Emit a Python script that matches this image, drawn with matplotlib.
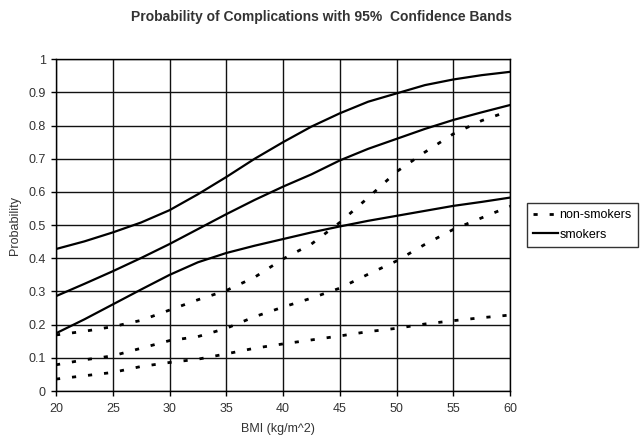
import numpy as np
import matplotlib.pyplot as plt

plt.rcParams['font.family'] = ['Liberation Sans', 'DejaVu Sans']

BMI = [20, 22.5, 25, 27.5, 30, 32.5, 35, 37.5, 40, 42.5, 45, 47.5, 50, 52.5, 55, 57.5, 60]

# smokers: estimate with lower / upper 95% band
SMOKERS_UPPER = [0.428, 0.451, 0.478, 0.508, 0.545, 0.593, 0.645, 0.70, 0.750,
                 0.797, 0.837, 0.872, 0.897, 0.922, 0.939, 0.952, 0.962]
SMOKERS = [0.286, 0.323, 0.361, 0.401, 0.443, 0.488, 0.533, 0.576, 0.616,
           0.653, 0.695, 0.730, 0.760, 0.790, 0.817, 0.840, 0.862]
SMOKERS_LOWER = [0.174, 0.216, 0.261, 0.306, 0.350, 0.388, 0.416, 0.438, 0.458,
                 0.478, 0.496, 0.513, 0.528, 0.543, 0.558, 0.570, 0.583]

# non-smokers
NON_SMOKERS_UPPER = [0.169, 0.180, 0.194, 0.213, 0.244, 0.275, 0.303, 0.343, 0.398,
                     0.443, 0.508, 0.583, 0.661, 0.720, 0.775, 0.815, 0.845]
NON_SMOKERS = [0.079, 0.094, 0.106, 0.129, 0.152, 0.164, 0.189, 0.224, 0.253,
               0.280, 0.310, 0.352, 0.392, 0.442, 0.487, 0.522, 0.557]
NON_SMOKERS_LOWER = [0.036, 0.046, 0.056, 0.074, 0.086, 0.096, 0.112, 0.129, 0.142,
                     0.154, 0.166, 0.179, 0.189, 0.202, 0.212, 0.221, 0.229]

X_TICKS = np.arange(20, 61, 5)
Y_TICKS = [0, 0.1, 0.2, 0.3, 0.4, 0.5, 0.6, 0.7, 0.8, 0.9, 1]
Y_LABELS = ['0', '0.1', '0.2', '0.3', '0.4', '0.5', '0.6', '0.7', '0.8', '0.9', '1']

fig = plt.figure(figsize=(6.4, 4.45), dpi=100)
ax = fig.add_axes([0.0875, 0.1213, 0.7095, 0.7456])

dash = (0, (1.5, 4.3))
for i, ys in enumerate([NON_SMOKERS_UPPER, NON_SMOKERS, NON_SMOKERS_LOWER]):
    ax.plot(BMI, ys, color='black', lw=2.0, linestyle=dash,
            label='non-smokers' if i == 0 else None)
for i, ys in enumerate([SMOKERS_UPPER, SMOKERS, SMOKERS_LOWER]):
    ax.plot(BMI, ys, color='black', lw=1.6, label='smokers' if i == 0 else None)

ax.set_xlim(20, 60)
ax.set_ylim(0, 1)
ax.set_xticks(X_TICKS)
ax.set_yticks(Y_TICKS)
ax.set_yticklabels(Y_LABELS)
ax.grid(True, color='#111111', lw=1.0)
ax.set_axisbelow(True)
for s in ax.spines.values():
    s.set_linewidth(1.0)
ax.tick_params(direction='out', length=3.5, width=1, labelsize=9, colors='black',
               labelcolor='#333333')
ax.tick_params(axis='x', pad=5)
ax.tick_params(axis='y', pad=4)

ax.set_xlabel('BMI (kg/m^2)', fontsize=9, color='#333333', labelpad=4)
ax.xaxis.set_label_coords(0.488, -0.095)
ax.set_ylabel('Probability', fontsize=9, color='#333333', labelpad=5)
fig.text(0.503, 0.962, 'Probability of Complications with 95%  Confidence Bands',
         ha='center', va='center', fontsize=10, fontweight='bold', color='#333333')

leg = ax.legend(loc='upper left', bbox_to_anchor=(527 / 640, 1 - 203 / 445),
                bbox_transform=fig.transFigure, fontsize=9, frameon=True,
                fancybox=False, edgecolor='black', borderpad=0.5,
                handlelength=2.0, handletextpad=0.1, labelspacing=0.6,
                borderaxespad=0)
leg.get_frame().set_linewidth(1.0)

fig.savefig('out.png', dpi=100)
